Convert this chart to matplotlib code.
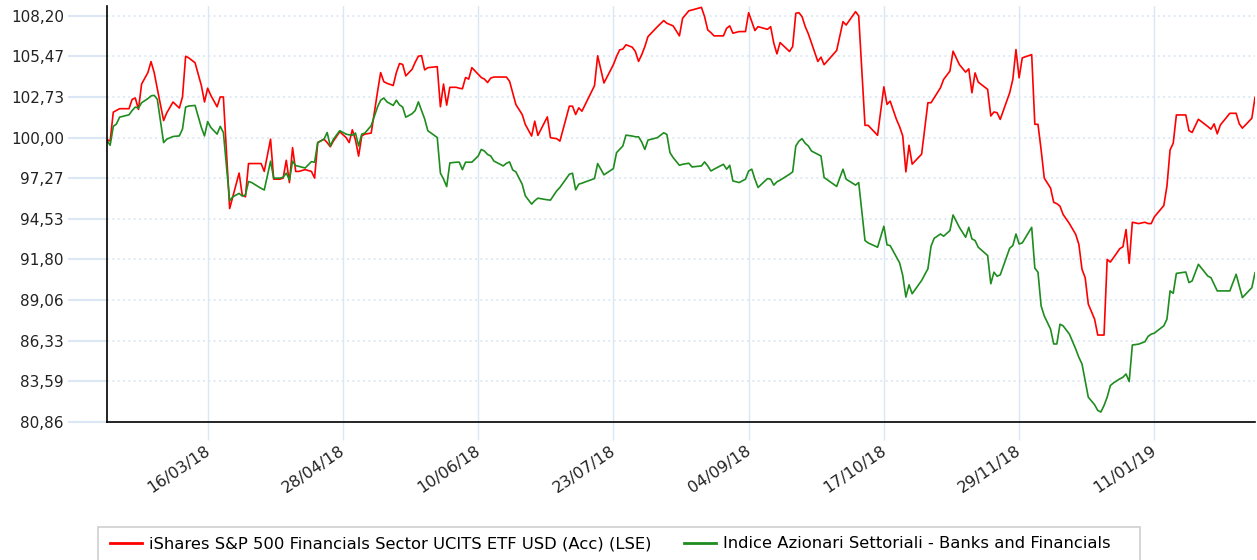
import pandas as pd
import matplotlib.pyplot as plt
from matplotlib.patches import Rectangle
from matplotlib.transforms import ScaledTranslation

# serie storica (base 100)
date = [
    '2018-02-12', '2018-02-13', '2018-02-14', '2018-02-15', '2018-02-16', '2018-02-19',
    '2018-02-20', '2018-02-21', '2018-02-22', '2018-02-23', '2018-02-25', '2018-02-26',
    '2018-02-27', '2018-02-28', '2018-03-02', '2018-03-03', '2018-03-05', '2018-03-07',
    '2018-03-08', '2018-03-09', '2018-03-10', '2018-03-12', '2018-03-14', '2018-03-15',
    '2018-03-16', '2018-03-17', '2018-03-19', '2018-03-20', '2018-03-21', '2018-03-23',
    '2018-03-24', '2018-03-26', '2018-03-27', '2018-03-28', '2018-03-29', '2018-03-30',
    '2018-04-02', '2018-04-03', '2018-04-05', '2018-04-06', '2018-04-08', '2018-04-09',
    '2018-04-10', '2018-04-11', '2018-04-12', '2018-04-13', '2018-04-14', '2018-04-16',
    '2018-04-18', '2018-04-19', '2018-04-20', '2018-04-22', '2018-04-23', '2018-04-24',
    '2018-04-25', '2018-04-27', '2018-04-29', '2018-04-30', '2018-05-01', '2018-05-02',
    '2018-05-03', '2018-05-04', '2018-05-05', '2018-05-07', '2018-05-09', '2018-05-10',
    '2018-05-11', '2018-05-12', '2018-05-14', '2018-05-15', '2018-05-16', '2018-05-17',
    '2018-05-18', '2018-05-20', '2018-05-21', '2018-05-22', '2018-05-23', '2018-05-24',
    '2018-05-25', '2018-05-28', '2018-05-29', '2018-05-30', '2018-05-31', '2018-06-01',
    '2018-06-03', '2018-06-04', '2018-06-05', '2018-06-06', '2018-06-07', '2018-06-08',
    '2018-06-10', '2018-06-11', '2018-06-12', '2018-06-13', '2018-06-14', '2018-06-15',
    '2018-06-18', '2018-06-19', '2018-06-20', '2018-06-21', '2018-06-22', '2018-06-24',
    '2018-06-25', '2018-06-27', '2018-06-28', '2018-06-29', '2018-07-02', '2018-07-03',
    '2018-07-05', '2018-07-06', '2018-07-09', '2018-07-10', '2018-07-11', '2018-07-12',
    '2018-07-13', '2018-07-17', '2018-07-18', '2018-07-20', '2018-07-23', '2018-07-24',
    '2018-07-25', '2018-07-26', '2018-07-27', '2018-07-29', '2018-07-30', '2018-07-31',
    '2018-08-01', '2018-08-02', '2018-08-03', '2018-08-06', '2018-08-08', '2018-08-09',
    '2018-08-10', '2018-08-11', '2018-08-13', '2018-08-14', '2018-08-16', '2018-08-17',
    '2018-08-20', '2018-08-21', '2018-08-22', '2018-08-23', '2018-08-24', '2018-08-27',
    '2018-08-28', '2018-08-29', '2018-08-30', '2018-09-01', '2018-09-03', '2018-09-04',
    '2018-09-05', '2018-09-06', '2018-09-07', '2018-09-10', '2018-09-11', '2018-09-12',
    '2018-09-13', '2018-09-14', '2018-09-17', '2018-09-18', '2018-09-19', '2018-09-20',
    '2018-09-21', '2018-09-22', '2018-09-23', '2018-09-24', '2018-09-26', '2018-09-27',
    '2018-09-28', '2018-10-02', '2018-10-04', '2018-10-05', '2018-10-08', '2018-10-09',
    '2018-10-11', '2018-10-12', '2018-10-15', '2018-10-17', '2018-10-18', '2018-10-19',
    '2018-10-21', '2018-10-22', '2018-10-23', '2018-10-24', '2018-10-25', '2018-10-26',
    '2018-10-29', '2018-10-31', '2018-11-01', '2018-11-02', '2018-11-04', '2018-11-05',
    '2018-11-07', '2018-11-08', '2018-11-10', '2018-11-12', '2018-11-13', '2018-11-14',
    '2018-11-15', '2018-11-16', '2018-11-19', '2018-11-20', '2018-11-21', '2018-11-22',
    '2018-11-23', '2018-11-26', '2018-11-27', '2018-11-28', '2018-11-29', '2018-11-30',
    '2018-12-03', '2018-12-04', '2018-12-05', '2018-12-06', '2018-12-07', '2018-12-09',
    '2018-12-10', '2018-12-11', '2018-12-12', '2018-12-13', '2018-12-15', '2018-12-17',
    '2018-12-18', '2018-12-19', '2018-12-20', '2018-12-21', '2018-12-23', '2018-12-24',
    '2018-12-25', '2018-12-26', '2018-12-27', '2018-12-28', '2018-12-29', '2018-12-31',
    '2019-01-01', '2019-01-02', '2019-01-03', '2019-01-04', '2019-01-06', '2019-01-08',
    '2019-01-09', '2019-01-10', '2019-01-11', '2019-01-14', '2019-01-15', '2019-01-16',
    '2019-01-17', '2019-01-18', '2019-01-21', '2019-01-22', '2019-01-23', '2019-01-25',
    '2019-01-28', '2019-01-29', '2019-01-30', '2019-01-31', '2019-02-01', '2019-02-04',
    '2019-02-06', '2019-02-07', '2019-02-08', '2019-02-11', '2019-02-12',
]

etf = [
    99.85, 99.77, 101.71, 101.82, 101.94, 101.94,
    102.57, 102.66, 101.89, 103.60, 104.37, 105.11,
    104.37, 103.28, 101.14, 101.66, 102.39, 101.98,
    102.73, 105.47, 105.36, 105.03, 103.50, 102.39,
    103.32, 102.84, 102.07, 102.73, 102.73, 95.22,
    96.01, 97.61, 96.13, 96.01, 98.25, 98.25,
    98.25, 97.72, 99.89, 97.20, 97.20, 97.27,
    98.47, 96.97, 99.32, 97.72, 97.72, 97.84,
    97.72, 97.27, 99.66, 99.89, 99.66, 99.38,
    99.77, 100.39, 100.00, 99.66, 100.52, 99.84,
    98.75, 100.11, 100.23, 100.30, 103.06, 104.37,
    103.76, 103.65, 103.50, 104.37, 104.98, 104.92,
    104.15, 104.59, 105.07, 105.47, 105.51, 104.55,
    104.70, 104.77, 102.07, 103.60, 102.18, 103.38,
    103.38, 103.32, 103.28, 104.04, 103.93, 104.70,
    104.26, 104.04, 103.93, 103.70, 104.00, 104.07,
    104.07, 104.07, 103.78, 103.00, 102.22, 101.55,
    100.88, 100.10, 101.10, 100.14, 101.39, 99.99,
    99.92, 99.76, 102.11, 102.11, 101.55, 102.00,
    101.77, 103.49, 105.50, 103.67, 104.90, 105.45,
    105.90, 105.95, 106.24, 106.08, 105.79, 105.12,
    105.57, 106.12, 106.79, 107.46, 107.87, 107.69,
    107.60, 107.51, 106.84, 108.02, 108.53, 108.58,
    108.76, 108.13, 107.24, 107.06, 106.84, 106.84,
    107.35, 107.51, 107.02, 107.13, 107.13, 108.40,
    107.80, 107.20, 107.46, 107.28, 107.46, 106.35,
    105.63, 106.39, 105.79, 106.12, 108.36, 108.40,
    108.13, 107.46, 106.97, 106.35, 105.12, 105.41,
    104.90, 105.86, 107.80, 107.57, 108.47, 108.18,
    100.82, 100.82, 100.15, 103.41, 102.23, 102.45,
    101.22, 100.73, 100.11, 97.69, 99.48, 98.21,
    98.88, 102.34, 102.34, 102.68, 103.35, 103.91,
    104.47, 105.81, 104.91, 104.40, 104.62, 103.01,
    104.35, 103.73, 103.24, 101.45, 101.72, 101.67,
    101.22, 103.01, 103.91, 105.92, 104.02, 105.36,
    105.58, 100.89, 100.89, 99.17, 97.27, 96.60,
    95.64, 95.55, 95.38, 94.82, 94.21, 93.48,
    92.81, 91.13, 90.57, 88.79, 87.78, 86.71,
    86.71, 86.71, 91.80, 91.62, 91.91, 92.52,
    92.65, 93.81, 91.53, 94.30, 94.21, 94.30,
    94.21, 94.21, 94.66, 95.42, 96.72, 99.17,
    99.62, 101.52, 101.52, 100.47, 100.34, 101.23,
    100.74, 100.56, 100.92, 100.25, 100.85, 101.63,
    101.63, 100.92, 100.63, 101.30, 102.70,
]

indice = [
    99.80, 99.48, 100.75, 100.91, 101.37, 101.53,
    101.82, 102.05, 101.98, 102.34, 102.62, 102.80,
    102.84, 102.57, 99.66, 99.89, 100.07, 100.11,
    100.57, 102.05, 102.12, 102.16, 100.68, 100.11,
    101.07, 100.68, 100.23, 100.75, 100.34, 95.74,
    96.01, 96.24, 96.06, 96.13, 97.04, 96.97,
    96.58, 96.47, 98.41, 97.27, 97.27, 97.33,
    97.61, 97.15, 98.41, 98.11, 98.06, 97.95,
    98.38, 98.34, 99.66, 99.89, 100.34, 99.43,
    99.89, 100.46, 100.23, 100.18, 100.16, 100.30,
    99.43, 100.23, 100.30, 100.80, 102.05, 102.51,
    102.66, 102.40, 102.16, 102.51, 102.20, 102.05,
    101.37, 101.60, 101.82, 102.40, 101.82, 101.25,
    100.46, 100.00, 97.61, 97.20, 96.70, 98.29,
    98.34, 98.34, 97.84, 98.34, 98.34, 98.34,
    98.75, 99.20, 99.09, 98.86, 98.76, 98.42,
    98.09, 98.27, 98.36, 97.82, 97.69, 96.86,
    96.08, 95.52, 95.75, 95.92, 95.81, 95.79,
    96.42, 96.64, 97.53, 97.60, 96.48, 96.86,
    96.93, 97.24, 98.25, 97.49, 97.91, 98.98,
    99.20, 99.43, 100.16, 100.10, 100.05, 100.05,
    99.70, 99.20, 99.83, 99.99, 100.32, 100.21,
    98.98, 98.65, 98.13, 98.20, 98.27, 98.02,
    98.09, 98.36, 98.09, 97.75, 97.87, 98.20,
    97.87, 98.13, 97.08, 96.97, 97.20, 97.75,
    97.87, 97.20, 96.64, 97.24, 97.20, 96.80,
    97.02, 97.13, 97.53, 97.69, 99.43, 99.76,
    99.92, 99.61, 99.43, 99.09, 98.87, 98.76,
    97.31, 96.71, 97.87, 97.20, 96.80, 96.97,
    93.07, 92.91, 92.62, 94.03, 92.78, 92.73,
    91.95, 91.57, 90.72, 89.27, 90.09, 89.49,
    90.38, 91.17, 92.69, 93.22, 93.51, 93.36,
    93.74, 94.79, 93.96, 93.29, 93.96, 93.18,
    93.07, 92.62, 92.06, 90.16, 90.94, 90.67,
    90.76, 92.55, 92.73, 93.51, 92.84, 92.91,
    93.96, 91.21, 90.94, 88.67, 88.00, 87.11,
    86.11, 86.11, 87.44, 87.33, 86.77, 85.77,
    85.21, 84.76, 83.65, 82.53, 82.02, 81.64,
    81.53, 81.97, 82.53, 83.31, 83.49, 83.76,
    83.87, 84.09, 83.58, 86.04, 86.10, 86.26,
    86.62, 86.77, 86.84, 87.33, 87.78, 89.68,
    89.52, 90.86, 90.95, 90.24, 90.35, 91.47,
    90.68, 90.57, 90.13, 89.68, 89.68, 89.68,
    90.80, 90.01, 89.23, 89.90, 90.90,
]

nomi = ['iShares S&P 500 Financials Sector UCITS ETF USD (Acc) (LSE)',
        'Indice Azionari Settoriali - Banks and Financials']
colori = ['#ff0000', '#1e8c1e']

tick_x = ['2018-03-16', '2018-04-28', '2018-06-10', '2018-07-23',
          '2018-09-04', '2018-10-17', '2018-11-29', '2019-01-11']
tick_y = ['80,86', '83,59', '86,33', '89,06', '91,80', '94,53',
          '97,27', '100,00', '102,73', '105,47', '108,20']

df = pd.DataFrame({'data': pd.to_datetime(date), 'etf': etf, 'indice': indice})

griglia = '#dbe7f4'

fig = plt.figure(figsize=(12.57, 5.6), dpi=100)
ax = fig.add_axes([107 / 1257, 138 / 560, 1148 / 1257, 416 / 560])

ax.plot(df['data'], df['etf'], color=colori[0], lw=1.2, label=nomi[0])
ax.plot(df['data'], df['indice'], color=colori[1], lw=1.2, label=nomi[1])

ax.set_xlim(pd.Timestamp('2018-02-12'), pd.Timestamp('2019-02-12'))
ax.set_ylim(80.86, 108.85)

xt = pd.to_datetime(tick_x)
ax.set_xticks(xt)
ax.set_xticklabels([d.strftime('%d/%m/%y') for d in xt], rotation=34, ha='right')
ax.set_yticks([float(s.replace(',', '.')) for s in tick_y])
ax.set_yticklabels(tick_y)

ax.tick_params(axis='x', length=13, width=1, color=griglia, pad=2,
               labelsize=11.5, labelcolor='#222222')
ax.tick_params(axis='y', length=28, width=1.5, color=griglia, pad=3,
               labelsize=11, labelcolor='#222222')
# sposta leggermente le etichette delle date verso destra
sposta = ScaledTranslation(5 / 100, 0, fig.dpi_scale_trans)
for lab in ax.get_xticklabels():
    lab.set_transform(lab.get_transform() + sposta)

ax.grid(axis='x', color=griglia, lw=1, ls='-')
ax.grid(axis='y', color=griglia, lw=1.2, ls=(0, (1.2, 2)))
ax.set_axisbelow(True)

for s in ['top', 'right']:
    ax.spines[s].set_visible(False)
for s in ['left', 'bottom']:
    ax.spines[s].set_color('black')
    ax.spines[s].set_linewidth(1.2)

# cornice della legenda (esce dal bordo inferiore come nell'originale)
fig.patches.append(Rectangle((98 / 1257, -10 / 560), 1042 / 1257, 43 / 560,
                             transform=fig.transFigure, facecolor='white',
                             edgecolor='#cfcfcf', lw=1.2))

leg = fig.legend(loc='center left', bbox_to_anchor=(110 / 1257, 1 - 544 / 560),
                 ncol=2, fontsize=11.8, frameon=False,
                 handlelength=1.95, handletextpad=0.43, columnspacing=2.0,
                 borderpad=0, borderaxespad=0)
for l in leg.get_lines():
    l.set_linewidth(2)

plt.savefig('out.png', dpi=100)
